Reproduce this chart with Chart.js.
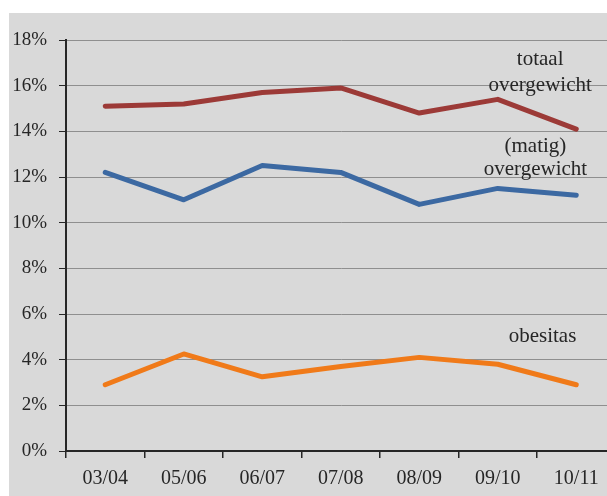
<!DOCTYPE html>
<html>
<head>
<meta charset="utf-8">
<script src="https://cdn.jsdelivr.net/npm/chart.js@4/dist/chart.umd.min.js"></script>
<style>
  html, body { margin: 0; padding: 0; background: #ffffff; overflow: hidden; width: 607px; height: 496px; }
  #panel { position: absolute; left: 9px; top: 13px; width: 630px; height: 483px; background: #d9d9d9; }
  canvas { display: block; }
</style>
</head>
<body>
<div id="panel"><canvas id="chart" width="630" height="483"></canvas></div>
<script>
// School years
const categories = ['03/04', '05/06', '06/07', '07/08', '08/09', '09/10', '10/11'];

// Percentages per group
const totaalOvergewicht = [15.1, 15.2, 15.7, 15.9, 14.8, 15.4, 14.1];
const matigOvergewicht  = [12.2, 11.0, 12.5, 12.2, 10.8, 11.5, 11.2];
const obesitas          = [2.9, 4.25, 3.25, 3.7, 4.1, 3.8, 2.9];

// Y-axis tick values
const yTicks = [0, 2, 4, 6, 8, 10, 12, 14, 16, 18];

// Series labels written inside the plot (x in category units, y in %)
const seriesLabels = [
  { lines: ['totaal', 'overgewicht'], x: 5.54, y: 17.15, gap: 1.13 },
  { lines: ['(matig)', 'overgewicht'], x: 5.48, y: 13.35, gap: 1.0 },
  { lines: ['obesitas'], x: 5.57, y: 5.0, gap: 0 }
];

const SERIF = '"Liberation Serif", "Times New Roman", serif';
const DARK = '#262626';

const inlineLabels = {
  id: 'inlineLabels',
  afterDatasetsDraw(chart) {
    const { ctx, scales: { x, y } } = chart;
    ctx.save();
    ctx.font = '21px ' + SERIF;
    ctx.fillStyle = DARK;
    ctx.textAlign = 'center';
    ctx.textBaseline = 'middle';
    seriesLabels.forEach(l => {
      const px = x.getPixelForValue(l.x);
      l.lines.forEach((t, i) => {
        ctx.fillText(t, px, y.getPixelForValue(l.y - i * l.gap));
      });
    });
    ctx.restore();
  }
};

new Chart(document.getElementById('chart'), {
  type: 'line',
  data: {
    labels: categories,
    datasets: [
      { label: 'totaal overgewicht', data: totaalOvergewicht, borderColor: '#9c3a37' },
      { label: '(matig) overgewicht', data: matigOvergewicht, borderColor: '#3c69a2' },
      { label: 'obesitas', data: obesitas, borderColor: '#f07a19' }
    ].map(d => Object.assign(d, {
      borderWidth: 5,
      pointRadius: 0,
      tension: 0,
      fill: false,
      borderCapStyle: 'round',
      borderJoinStyle: 'round'
    }))
  },
  options: {
    responsive: false,
    animation: false,
    layout: { padding: { left: 0, top: 27, right: 23.5, bottom: 0 } },
    plugins: { legend: { display: false }, tooltip: { enabled: false } },
    scales: {
      x: {
        type: 'category',
        offset: true,
        grid: { offset: true, drawOnChartArea: false, tickColor: DARK, tickLength: 7, lineWidth: 1.5 },
        border: { color: DARK, width: 2 },
        ticks: { color: DARK, font: { family: SERIF, size: 20 }, padding: 9, maxRotation: 0 },
        afterFit(scale) { scale.height = 45; }
      },
      y: {
        min: 0,
        max: 18,
        afterBuildTicks(scale) { scale.ticks = yTicks.map(v => ({ value: v })); },
        grid: { color: '#8f8f8f', lineWidth: 1, tickColor: DARK, tickLength: 7 },
        border: { color: DARK, width: 2 },
        ticks: { color: DARK, font: { family: SERIF, size: 19 }, padding: 12, callback: v => v + '%' },
        afterFit(scale) { scale.width = 57; }
      }
    }
  },
  plugins: [inlineLabels]
});
</script>
</body>
</html>
